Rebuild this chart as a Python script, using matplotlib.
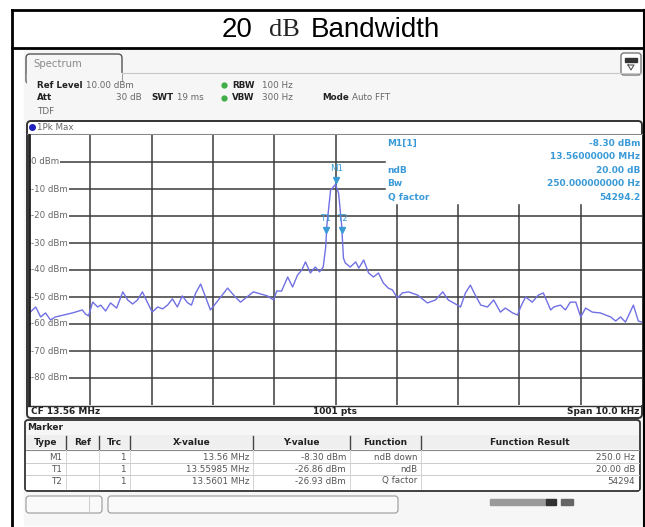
import matplotlib.pyplot as plt
from matplotlib.patches import FancyBboxPatch, Rectangle

# analyzer settings
center_mhz = 13.56
span_khz = 10.0
n_points = 1001

# trace: offset from CF in kHz, level in dBm
freq_khz = [-4.98, -4.89, -4.81, -4.73, -4.65, -4.57, -4.44, -4.29, -4.13, -4.08,
            -4.03, -3.96, -3.88, -3.83, -3.75, -3.67, -3.57, -3.47, -3.39, -3.31,
            -3.23, -3.15, -3.07, -2.99, -2.90, -2.82, -2.74, -2.66, -2.58, -2.50,
            -2.41, -2.35, -2.28, -2.20, -2.12, -2.04, -1.91, -1.76, -1.65, -1.55,
            -1.34, -1.11, -1.01, -0.96, -0.88, -0.78, -0.70, -0.62, -0.55, -0.49,
            -0.41, -0.33, -0.26, -0.20, -0.16, -0.14, -0.08, 0.0, 0.05, 0.10,
            0.13, 0.16, 0.24, 0.33, 0.38, 0.46, 0.54, 0.62, 0.70, 0.78,
            0.86, 0.93, 1.01, 1.09, 1.19, 1.34, 1.50, 1.63, 1.75, 1.84,
            1.99, 2.04, 2.12, 2.20, 2.28, 2.37, 2.48, 2.58, 2.69, 2.77,
            2.89, 2.97, 3.02, 3.10, 3.21, 3.31, 3.39, 3.51, 3.56, 3.67,
            3.75, 3.83, 3.92, 4.00, 4.08, 4.19, 4.32, 4.49, 4.57, 4.65,
            4.73, 4.86, 4.94, 5.00]
level_dbm = [-55.6, -53.7, -57.4, -55.9, -58.5, -57.4, -56.7, -55.9, -54.8, -56.3,
             -57.0, -51.9, -53.7, -53.0, -55.2, -52.2, -54.1, -48.1, -51.1, -52.6,
             -51.1, -48.1, -51.9, -55.6, -53.7, -54.4, -53.0, -50.7, -53.7, -49.6,
             -52.2, -53.0, -48.5, -45.2, -50.0, -54.8, -51.1, -46.7, -49.6, -51.9,
             -48.1, -49.6, -51.1, -47.8, -47.8, -42.6, -46.3, -41.9, -40.0, -37.0,
             -41.1, -38.9, -40.7, -38.9, -31.5, -23.3, -10.4, -8.3, -11.5, -23.3,
             -35.6, -37.4, -38.9, -37.0, -39.3, -36.3, -41.1, -42.6, -41.1, -44.8,
             -46.7, -47.4, -50.4, -48.5, -48.1, -49.3, -52.2, -51.1, -48.1, -51.1,
             -53.0, -53.7, -48.5, -45.6, -49.3, -53.0, -53.7, -51.1, -55.6, -54.1,
             -55.9, -56.7, -53.7, -50.0, -51.9, -49.3, -48.5, -54.8, -53.7, -53.0,
             -54.8, -51.9, -51.9, -57.4, -54.1, -55.6, -55.9, -57.4, -58.9, -57.4,
             -59.3, -53.0, -58.9, -59.3]

ref_levels = [0, -10, -20, -30, -40, -50, -60, -70, -80]

marker_names = ["M1", "T1", "T2"]
marker_freq_mhz = [13.56, 13.55985, 13.5601]
marker_level = [-8.30, -26.86, -26.93]
marker_func = ["ndB down", "ndB", "Q factor"]
marker_result = ["250.0 Hz", "20.00 dB", "54294"]

info_labels = ["M1[1]", "", "ndB", "Bw", "Q factor"]
info_values = ["-8.30 dBm", "13.56000000 MHz", "20.00 dB", "250.000000000 Hz", "54294.2"]

trace_col = "#7070e4"
mark_col = "#3a9ad8"
grid_col = "#3a3a3a"
txt_gray = "#666666"

fig = plt.figure(figsize=(6.45, 5.27), dpi=100)
fig.patch.set_facecolor("white")

# pixel canvas for the screenshot chrome
bg = fig.add_axes([0, 0, 1, 1])
bg.set_xlim(0, 645)
bg.set_ylim(527, 0)
bg.axis("off")

# outer frame + title
bg.plot([12, 645], [10, 10], color="black", lw=2)
bg.plot([12, 645], [48, 48], color="black", lw=2)
bg.plot([12, 12], [10, 527], color="black", lw=2)
bg.plot([643.5, 643.5], [10, 527], color="black", lw=1.5)
bg.text(222, 30, "20", fontsize=20, family="Liberation Sans", va="center", ha="left")
bg.text(269, 30, "dB", fontsize=19, family="Liberation Serif", va="center", ha="left", color="#222222")
bg.text(311, 30, "Bandwidth", fontsize=20, family="Liberation Sans", va="center", ha="left")

# screenshot panel
bg.add_patch(Rectangle((24, 49), 618, 476, color="#f6f6f6", zorder=0))
bg.add_patch(FancyBboxPatch((26, 54), 96, 30, boxstyle="round,pad=0,rounding_size=4",
                            fc="#f6f6f6", ec="#555555", lw=1))
bg.add_patch(Rectangle((27, 73), 94, 14, color="#f6f6f6", zorder=3))
bg.plot([121, 640], [73, 73], color="#c8c8c8", lw=0.8)
bg.text(33, 64, "Spectrum", fontsize=7.3, color="#8a8a8a", va="center")
bg.add_patch(FancyBboxPatch((621, 53), 20, 22, boxstyle="round,pad=0,rounding_size=3",
                            fc="white", ec="#777777", lw=1))
bg.add_patch(Rectangle((625, 58), 12, 4, color="#333333"))
bg.plot([628, 634, 631, 628], [65, 65, 70, 65], color="#555555", lw=0.8)

hdr = dict(fontsize=6.3, va="center", zorder=4)
bg.text(37, 85, "Ref Level", fontweight="bold", color="#222222", **hdr)
bg.text(86, 85, "10.00 dBm", color=txt_gray, **hdr)
bg.text(37, 98, "Att", fontweight="bold", color="#222222", **hdr)
bg.text(142, 98, "30 dB", color=txt_gray, ha="right", **hdr)
bg.text(151, 98, "SWT", fontweight="bold", color="#222222", **hdr)
bg.text(177, 98, "19 ms", color=txt_gray, **hdr)
bg.text(232, 85, "RBW", fontweight="bold", color="#222222", **hdr)
bg.text(262, 85, "100 Hz", color=txt_gray, **hdr)
bg.text(232, 98, "VBW", fontweight="bold", color="#222222", **hdr)
bg.text(262, 98, "300 Hz", color=txt_gray, **hdr)
bg.text(322, 98, "Mode", fontweight="bold", color="#222222", **hdr)
bg.text(352, 98, "Auto FFT", color=txt_gray, **hdr)
bg.plot([224, 224], [85, 98], "o", color="#3fae49", ms=3.5)
bg.text(37, 111, "TDF", color=txt_gray, **hdr)

# graph window frame
bg.add_patch(FancyBboxPatch((27, 121), 615, 297, boxstyle="round,pad=0,rounding_size=4",
                            fc="white", ec="#333333", lw=1.4))
bg.plot([27, 642], [134, 134], color="#888888", lw=0.8)
bg.plot([32], [127], "o", color="#2020c0", ms=4)
bg.text(37, 127, "1Pk Max", fontsize=6.3, color=txt_gray, va="center")
bg.plot([27, 642], [405.5, 405.5], color="#333333", lw=1)
bg.text(31, 412, "CF %.2f MHz" % center_mhz, fontsize=6.5, fontweight="bold", color="#222222", va="center")
bg.text(335, 412, "%d pts" % n_points, fontsize=6.5, fontweight="bold", color="#222222", va="center", ha="center")
bg.text(639, 412, "Span %.1f kHz" % span_khz, fontsize=6.5, fontweight="bold", color="#222222", va="center", ha="right")

# spectrum graph
ax = fig.add_axes([29 / 645, 1 - 405 / 527, 613 / 645, 270 / 527])
ax.set_xlim(-span_khz / 2, span_khz / 2)
ax.set_ylim(-90, 10)
ax.set_xticks(range(-4, 5))
ax.set_yticks(ref_levels)
ax.tick_params(length=0, labelbottom=False, labelleft=False)
ax.grid(True, color=grid_col, lw=1.1)
ax.set_axisbelow(True)
for s in ax.spines.values():
    s.set_visible(False)
ax.spines["left"].set_visible(True)
ax.spines["left"].set_color("#222222")
ax.spines["left"].set_linewidth(2)
ax.set_facecolor("white")

# marker info block hides the grid in the upper right
ax.add_patch(Rectangle((0.82, -15.2), 4.2, 25.2, color="white", zorder=1))
for i, (lab, val) in enumerate(zip(info_labels, info_values)):
    yy = 7.0 - i * 5.0
    ax.text(0.85, yy, lab, fontsize=6.5, fontweight="bold", color=mark_col, va="center", zorder=4)
    ax.text(4.97, yy, val, fontsize=6.5, fontweight="bold", color=mark_col, va="center", ha="right", zorder=4)

for lv in ref_levels:
    ax.text(-4.96, lv, "%d dBm" % lv, fontsize=6.2, color=txt_gray, va="center", ha="left", zorder=1.5,
            bbox=dict(fc="white", ec="none", pad=0.6))

ax.plot(freq_khz, level_dbm, color=trace_col, lw=1.0, zorder=2, solid_joinstyle="round")

for name, f, lv in zip(marker_names, marker_freq_mhz, marker_level):
    fk = (f - center_mhz) * 1000
    ax.plot(fk, lv + 1.8, marker="v", color=mark_col, ms=4.5, zorder=5)
    ax.text(fk + (0.02 if name != "T1" else -0.02), lv + 6.0, name, fontsize=6.3, color=mark_col,
            ha="center", va="center", zorder=5)

# marker table window
bg.add_patch(FancyBboxPatch((25, 420), 615, 71, boxstyle="round,pad=0,rounding_size=3",
                            fc="#f6f6f6", ec="#333333", lw=1.3))
bg.text(27, 427, "Marker", fontsize=6.5, fontweight="bold", color="#222222", va="center")
bg.add_patch(Rectangle((26, 435), 613, 55, fc="white", ec="none"))
col_edges = [26, 66, 99, 130, 253, 350, 421, 639]
col_heads = ["Type", "Ref", "Trc", "X-value", "Y-value", "Function", "Function Result"]
bg.add_patch(Rectangle((26, 435), 613, 14, fc="#efefef", ec="none"))
bg.plot([26, 639], [449.5, 449.5], color="#888888", lw=0.8)
for i, h in enumerate(col_heads):
    bg.text((col_edges[i] + col_edges[i + 1]) / 2, 442.5, h, fontsize=6.5, fontweight="bold",
            color="#222222", ha="center", va="center")
for xe in col_edges[1:-1]:
    bg.plot([xe, xe], [436, 449], color="#444444", lw=1)
    bg.plot([xe, xe], [450, 489], color="#d4d4d4", lw=0.7)
row_y = [457, 469, 481]
for r in range(3):
    if r:
        bg.plot([26, 639], [row_y[r] - 6.5, row_y[r] - 6.5], color="#cccccc", lw=0.7)
    cells = [marker_names[r], "", "1", "%s MHz" % repr(marker_freq_mhz[r]),
             "%.2f dBm" % marker_level[r], marker_func[r], marker_result[r]]
    for i, c in enumerate(cells):
        bg.text(col_edges[i + 1] - 4, row_y[r], c, fontsize=6.3, color="#555555",
                ha="right", va="center")

# status bar
bg.add_patch(FancyBboxPatch((26, 496), 76, 17, boxstyle="round,pad=0,rounding_size=3",
                            fc="#fafafa", ec="#999999", lw=0.8))
bg.plot([89, 89], [497, 512], color="#cccccc", lw=0.7)
bg.add_patch(FancyBboxPatch((108, 496), 290, 17, boxstyle="round,pad=0,rounding_size=3",
                            fc="#fafafa", ec="#999999", lw=0.8))
bg.add_patch(Rectangle((490, 499), 56, 6, color="#9a9a9a"))
bg.add_patch(Rectangle((546, 499), 10, 6, color="#333333"))
bg.add_patch(Rectangle((561, 499), 12, 6, color="#666666"))

fig.savefig("out.png", dpi=100)
